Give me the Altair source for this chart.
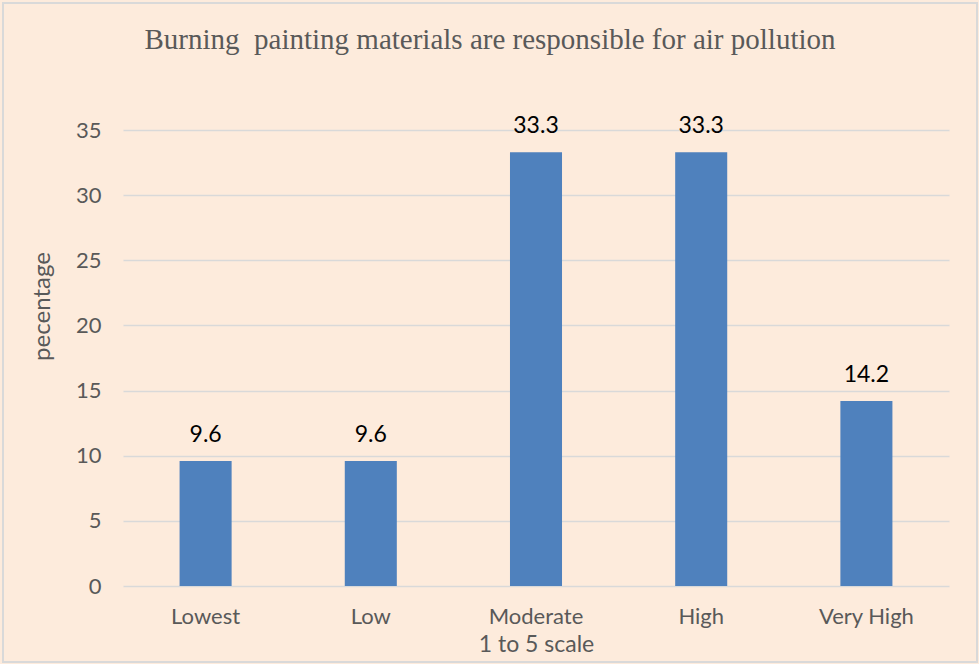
import altair as alt
import pandas as pd

categories = ["Lowest", "Low", "Moderate", "High", "Very High"]
values = [9.6, 9.6, 33.3, 33.3, 14.2]
y_ticks = [0, 5, 10, 15, 20, 25, 30, 35]

df = pd.DataFrame({"cat": categories, "val": values})

FONT = "Lato"
BG = "#FDEBDC"

x = alt.X("cat:N", sort=categories, title="1 to 5 scale",
          scale=alt.Scale(paddingInner=0.685, paddingOuter=0.3425),
          axis=alt.Axis(labelAngle=0, labelFontSize=22, labelFont=FONT, labelColor="#595959",
                        titleFontSize=23, titleFont=FONT, titleColor="#595959", titleFontWeight="normal",
                        domain=False, ticks=False, labelPadding=20, titlePadding=6))
y = alt.Y("val:Q", title="pecentage",
          scale=alt.Scale(domain=[0, 35], nice=False),
          axis=alt.Axis(values=y_ticks, labelFontSize=22, labelFont=FONT, labelColor="#595959",
                        titleFontSize=24, titleFont=FONT, titleColor="#595959", titleFontWeight="normal",
                        domain=False, ticks=False, labelPadding=22, gridColor="#D9D9D9", gridWidth=1.3,
                        titleAngle=-90, titleX=-81, titleY=176, titleAlign="center", titleBaseline="middle"))

bars = alt.Chart(df).mark_bar(color="#4F81BD").encode(x=x, y=y)
labels = alt.Chart(df).mark_text(dy=-19, baseline="alphabetic", fontSize=23, font=FONT, color="#000000").encode(
    x=alt.X("cat:N", sort=categories), y="val:Q", text=alt.Text("val:Q", format=".1f"))

border = alt.Chart(df).mark_rect(fill=None, stroke="#D9D9D9", strokeWidth=2).encode(
    x=alt.value(-120), x2=alt.value(854), y=alt.value(-127), y2=alt.value(532))

chart = alt.layer(bars, labels, border).properties(
    width=826, height=456,
    autosize=alt.AutoSizeParams(type="none"),
    padding={"left": 123, "top": 130, "right": 30, "bottom": 78},
    background=BG,
    title=alt.TitleParams("Burning\u00a0 painting materials are responsible for air pollution",
                          font="Liberation Serif", fontSize=29, color="#595959", fontWeight="normal",
                          anchor="middle", dx=-46, offset=0, dy=76, baseline="alphabetic"),
).configure_view(stroke=None)

chart.save("out.html", embed_options={"renderer": "svg", "actions": False})
